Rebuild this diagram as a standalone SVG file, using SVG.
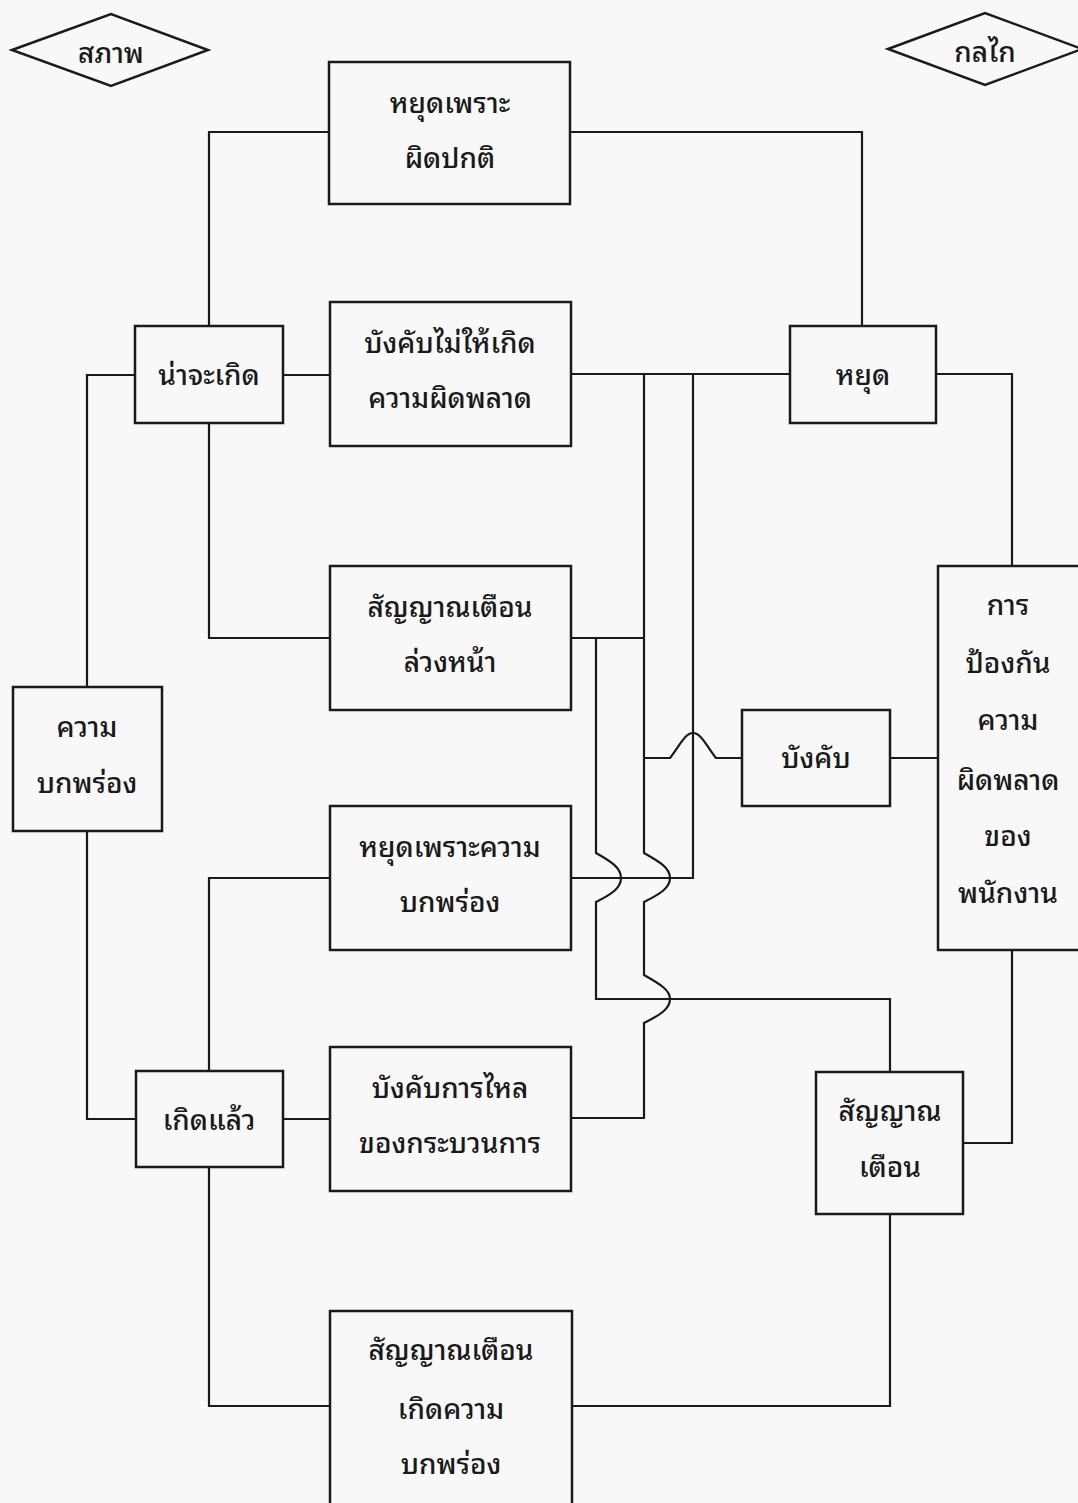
<svg xmlns="http://www.w3.org/2000/svg" width="1078" height="1503" viewBox="0 0 1078 1503">
<style>
.box{fill:none;stroke:#1a1a1a;stroke-width:2.5}
.ln{fill:none;stroke:#1a1a1a;stroke-width:2.2}
text{font-family:"Noto Sans Thai Looped","Noto Serif Thai","Norasi","Loma","Garuda","Tlwg Typo","Noto Sans Thai","DejaVu Sans",sans-serif;font-size:28px;font-weight:500;fill:#1a1a1a;text-anchor:middle}
</style>
<rect width="1078" height="1503" fill="#f8f8f8"/>
<g id="connectors">
<path class="ln" d="M209,326 V132 H329"/>
<path class="ln" d="M570,132 H862 V326"/>
<path class="ln" d="M283,375 H330"/>
<path class="ln" d="M135,375 H87 V687"/>
<path class="ln" d="M209,423 V638 H330"/>
<path class="ln" d="M571,374 H790"/>
<path class="ln" d="M936,374 H1012 V566"/>
<path class="ln" d="M571,638 H644"/>
<path class="ln" d="M644,374 V853 C660,862 670,868 670,878 C670,888 660,894 644,902 V975 C660,984 670,990 670,999 C670,1009 660,1015 644,1023 V1118 H571"/>
<path class="ln" d="M644,758 H670 C680,745 685,733 693,733 C701,733 706,745 716,758 H742"/>
<path class="ln" d="M693,374 V878 H571"/>
<path class="ln" d="M596,638 V853 C612,862 621,868 621,878 C621,888 612,894 596,902 V999 H890 V1072"/>
<path class="ln" d="M890,758 H938"/>
<path class="ln" d="M1012,950 V1143 H963"/>
<path class="ln" d="M890,1214 V1406 H572"/>
<path class="ln" d="M283,1119 H330"/>
<path class="ln" d="M136,1119 H87 V831"/>
<path class="ln" d="M209,1071 V878 H330"/>
<path class="ln" d="M209,1167 V1406 H330"/>
</g>
<g id="n-sapap"><polygon class="box" points="12,50 111,14 208,50 111,86"/><text x="111" y="63">สภาพ</text></g>
<g id="n-konlai"><polygon class="box" points="888,49 985,13 1082,49 985,85"/><text x="985" y="62">กลไก</text></g>
<g id="n-stop-abnormal"><rect class="box" x="329" y="62" width="241" height="142"/><text x="450" y="113">หยุดเพราะ</text><text x="450" y="168">ผิดปกติ</text></g>
<g id="n-likely"><rect class="box" x="135" y="326" width="148" height="97"/><text x="209" y="385">น่าจะเกิด</text></g>
<g id="n-force-noerror"><rect class="box" x="330" y="302" width="241" height="144"/><text x="450" y="353">บังคับไม่ให้เกิด</text><text x="450" y="408">ความผิดพลาด</text></g>
<g id="n-stop"><rect class="box" x="790" y="326" width="146" height="97"/><text x="863" y="385">หยุด</text></g>
<g id="n-advance-warning"><rect class="box" x="330" y="566" width="241" height="144"/><text x="450" y="617">สัญญาณเตือน</text><text x="450" y="672">ล่วงหน้า</text></g>
<g id="n-defect"><rect class="box" x="13" y="687" width="149" height="144"/><text x="87" y="737">ความ</text><text x="87" y="793">บกพร่อง</text></g>
<g id="n-force"><rect class="box" x="742" y="710" width="148" height="96"/><text x="816" y="768">บังคับ</text></g>
<g id="n-prevent"><rect class="box" x="938" y="566" width="142" height="384"/><text x="1008" y="615">การ</text><text x="1008" y="673">ป้องกัน</text><text x="1008" y="730">ความ</text><text x="1008" y="790">ผิดพลาด</text><text x="1008" y="846">ของ</text><text x="1008" y="903">พนักงาน</text></g>
<g id="n-stop-defect"><rect class="box" x="330" y="806" width="241" height="144"/><text x="450" y="857">หยุดเพราะความ</text><text x="450" y="912">บกพร่อง</text></g>
<g id="n-force-flow"><rect class="box" x="330" y="1047" width="241" height="144"/><text x="450" y="1098">บังคับการไหล</text><text x="450" y="1153">ของกระบวนการ</text></g>
<g id="n-occurred"><rect class="box" x="136" y="1071" width="147" height="96"/><text x="209" y="1130">เกิดแล้ว</text></g>
<g id="n-warning"><rect class="box" x="816" y="1072" width="147" height="142"/><text x="890" y="1121">สัญญาณ</text><text x="890" y="1177">เตือน</text></g>
<g id="n-warning-defect"><rect class="box" x="330" y="1311" width="242" height="195"/><text x="451" y="1360">สัญญาณเตือน</text><text x="451" y="1419">เกิดความ</text><text x="451" y="1474">บกพร่อง</text></g>
</svg>
